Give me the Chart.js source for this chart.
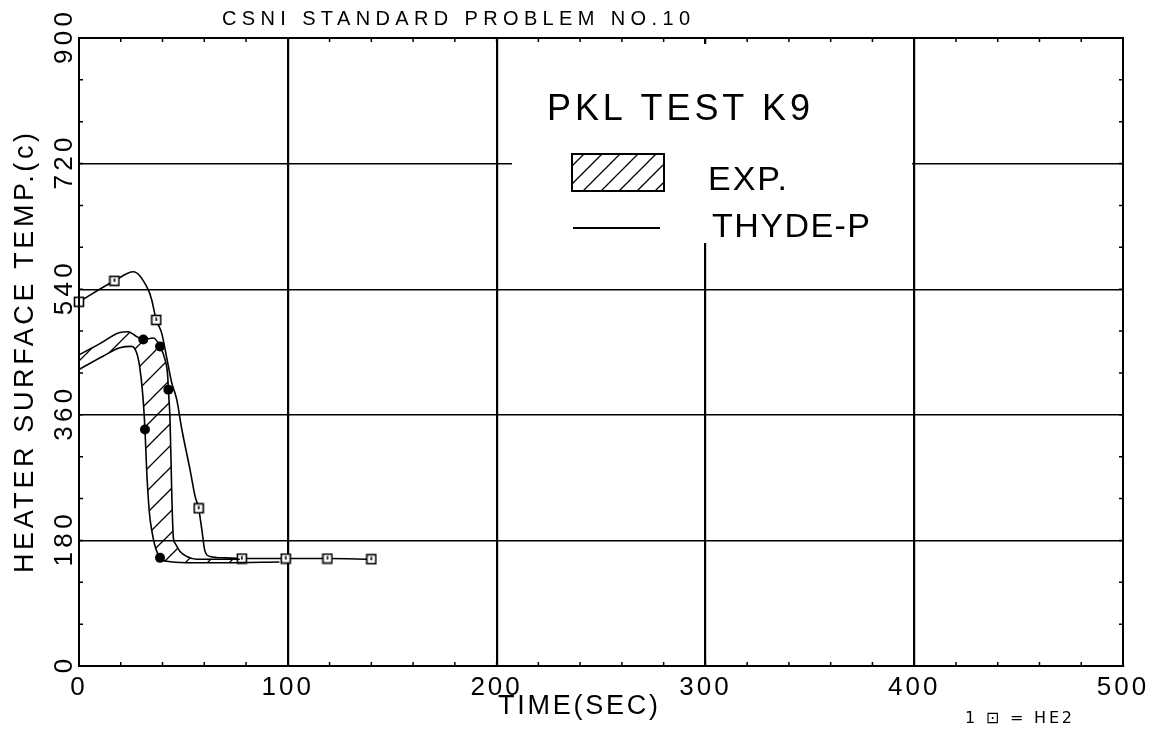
<!DOCTYPE html>
<html>
<head>
<meta charset="utf-8">
<style>
  html, body { margin: 0; padding: 0; background: #fff; }
  #chart { display: block; }
</style>
<script src="https://cdn.jsdelivr.net/npm/chart.js@4.4.1/dist/chart.umd.min.js"></script>
</head>
<body>
<canvas id="chart" width="1160" height="730"></canvas>
<script>
// Values: time (s) and heater surface temperature (C)
const expUpperTime = [0, 10, 19.6, 23.6, 27.6, 30.8, 35.6, 38.8, 41.2, 42.5, 42.8, 43.6, 44.5, 45.2, 46, 48.4, 51.6, 56.4, 77];
const expUpperTemp = [446, 462, 478, 479, 472, 468, 470, 458, 439, 415, 396, 353, 238, 184, 176, 164, 157, 153, 153];
const expLowerTime = [0, 11.5, 19.6, 25.2, 27.6, 29, 30.5, 31.6, 32.4, 33.7, 34.8, 36.4, 38.8, 42, 51.6, 70, 96];
const expLowerTemp = [425, 444, 456, 458, 449, 430, 390, 339, 281, 220, 195, 172, 155, 150, 148, 148, 149];
const expDotTimes = [30.8, 42.8, 31.6, 38.8];

const he2Time = [0, 17, 26, 33.2, 34.8, 37, 39.6, 42, 44.4, 46.8, 49.2, 53.2, 55.6, 57.3, 58.8, 60.3, 62.7, 70, 78, 99, 119, 140];
const he2Temp = [522, 552, 565, 539, 525, 496, 477, 442, 406, 382, 340, 281, 243, 226, 196, 165, 157, 155, 154, 154, 154, 153];
const he2MarkTimes = [0, 17, 37, 57.3, 78, 99, 119, 140];

const xTickLabels = [0, 100, 200, 300, 400, 500];
const yTickLabels = [0, 180, 360, 540, 720, 900];

const FONT = "'Liberation Sans', 'DejaVu Sans', sans-serif";

const canvas = document.getElementById('chart');
const ctx0 = canvas.getContext('2d');

// diagonal hatching for the experimental band
function makeHatch(s) {
  const c = document.createElement('canvas');
  c.width = s; c.height = s;
  const g = c.getContext('2d');
  g.strokeStyle = '#000';
  g.lineWidth = 1.3;
  g.beginPath();
  g.moveTo(-2, s + 2); g.lineTo(s + 2, -2);
  g.moveTo(-2, 2); g.lineTo(2, -2);
  g.moveTo(s - 2, s + 2); g.lineTo(s + 2, s - 2);
  g.stroke();
  return ctx0.createPattern(c, 'repeat');
}
const bandHatch = makeHatch(22);
const keyHatch = makeHatch(18);

// plotter square symbol
function makeSquare() {
  const c = document.createElement('canvas');
  c.width = 12; c.height = 12;
  const g = c.getContext('2d');
  g.fillStyle = '#fff';
  g.fillRect(1, 1, 10, 10);
  g.strokeStyle = '#000';
  g.lineWidth = 1.6;
  g.strokeRect(1.5, 1.5, 9, 9);
  g.beginPath();
  g.moveTo(6, 3.5); g.lineTo(6, 7);
  g.stroke();
  return c;
}
const squareImg = makeSquare();

const toXY = (ts, vs) => ts.map((t, i) => ({ x: t, y: vs[i] }));

function spaced(ctx, text, x, y, width) {
  ctx.letterSpacing = '0px';
  const w = ctx.measureText(text).width;
  const n = [...text].length;
  const sp = n > 1 ? (width - w) / (n - 1) : 0;
  ctx.letterSpacing = sp + 'px';
  ctx.textAlign = 'left';
  ctx.fillText(text, x, y);
  ctx.letterSpacing = '0px';
}

const paperPlugin = {
  id: 'paper',
  beforeDraw(chart) {
    chart.ctx.letterSpacing = '3px';
  },
  afterDraw(chart) {
    const ctx = chart.ctx;
    const a = chart.chartArea;
    const xs = chart.scales.x, ys = chart.scales.y;
    ctx.save();
    ctx.strokeStyle = '#000';
    ctx.fillStyle = '#000';

    // frame
    ctx.lineWidth = 2;
    ctx.strokeRect(a.left, a.top, a.right - a.left, a.bottom - a.top);

    // inward minor ticks
    ctx.lineWidth = 1.5;
    ctx.beginPath();
    for (let v = 20; v < 500; v += 20) {
      const px = xs.getPixelForValue(v);
      ctx.moveTo(px, a.bottom); ctx.lineTo(px, a.bottom - 4);
      ctx.moveTo(px, a.top); ctx.lineTo(px, a.top + 4);
    }
    for (let v = 60; v < 900; v += 60) {
      const py = ys.getPixelForValue(v);
      ctx.moveTo(a.left, py); ctx.lineTo(a.left + 4, py);
      ctx.moveTo(a.right, py); ctx.lineTo(a.right - 4, py);
    }
    ctx.stroke();

    // legend block (grid is blanked behind it)
    ctx.fillStyle = '#fff';
    ctx.fillRect(512, 44, 400, 199);
    ctx.fillStyle = '#000';
    ctx.textBaseline = 'alphabetic';
    ctx.font = '36px ' + FONT;
    spaced(ctx, 'PKL TEST K9', 547, 120, 263);
    ctx.fillStyle = keyHatch;
    ctx.fillRect(572, 154, 92, 37);
    ctx.fillStyle = '#000';
    ctx.lineWidth = 2;
    ctx.strokeRect(572, 154, 92, 37);
    ctx.font = '34px ' + FONT;
    spaced(ctx, 'EXP.', 708, 190, 79);
    ctx.beginPath();
    ctx.moveTo(573, 228); ctx.lineTo(660, 228);
    ctx.stroke();
    spaced(ctx, 'THYDE-P', 712, 237, 158);

    // title
    ctx.font = '20px ' + FONT;
    spaced(ctx, 'CSNI STANDARD PROBLEM NO.10', 222, 25, 468);

    // x title
    ctx.font = '27px ' + FONT;
    spaced(ctx, 'TIME(SEC)', 498, 714, 160);

    // y title and y tick labels, written upward
    ctx.save();
    ctx.translate(33, 573);
    ctx.rotate(-Math.PI / 2);
    spaced(ctx, 'HEATER SURFACE TEMP.(c)', 0, 0, 440);
    ctx.restore();

    ctx.font = '26px ' + FONT;
    yTickLabels.forEach(v => {
      const py = ys.getPixelForValue(v);
      const s = String(v);
      const w = s.length > 1 ? 52 : ctx.measureText(s).width;
      ctx.save();
      ctx.translate(72, py);
      ctx.rotate(-Math.PI / 2);
      spaced(ctx, s, -w / 2, 0, w);
      ctx.restore();
    });

    // symbol note
    ctx.font = "16px 'DejaVu Sans', sans-serif";
    spaced(ctx, '1 \u22A1 = HE2', 965, 723, 107);

    ctx.restore();
  }
};

new Chart(canvas, {
  type: 'line',
  data: {
    datasets: [
      {
        label: 'EXP.',
        data: toXY(expUpperTime, expUpperTemp),
        borderColor: '#000',
        borderWidth: 1.6,
        backgroundColor: bandHatch,
        fill: '+1',
        cubicInterpolationMode: 'monotone',
        pointRadius: c => expDotTimes.includes(c.raw.x) ? 5 : 0,
        pointBackgroundColor: '#000',
        pointBorderColor: '#000',
        pointBorderWidth: 0,
        clip: false
      },
      {
        label: 'EXP. low',
        data: toXY(expLowerTime, expLowerTemp),
        borderColor: '#000',
        borderWidth: 1.6,
        fill: false,
        cubicInterpolationMode: 'monotone',
        pointRadius: c => expDotTimes.includes(c.raw.x) ? 5 : 0,
        pointBackgroundColor: '#000',
        pointBorderColor: '#000',
        pointBorderWidth: 0,
        clip: false
      },
      {
        label: 'THYDE-P',
        data: toXY(he2Time, he2Temp),
        borderColor: '#000',
        borderWidth: 1.6,
        fill: false,
        cubicInterpolationMode: 'monotone',
        pointStyle: squareImg,
        pointRadius: c => he2MarkTimes.includes(c.raw.x) ? 5 : 0,
        clip: false
      }
    ]
  },
  options: {
    responsive: false,
    animation: false,
    events: [],
    layout: { padding: { top: 38, right: 37, left: 0, bottom: 0 } },
    plugins: {
      legend: { display: false },
      tooltip: { enabled: false }
    },
    scales: {
      x: {
        type: 'linear',
        min: 0,
        max: 500,
        afterFit: s => { s.height = 64; },
        border: { color: '#000', width: 2 },
        grid: {
          drawTicks: false,
          color: c => (c.tick.value % 100 === 0 && c.tick.value > 0 && c.tick.value < 500) ? '#000' : 'rgba(0,0,0,0)',
          lineWidth: 2.2
        },
        ticks: {
          stepSize: 20,
          autoSkip: false,
          maxRotation: 0,
          padding: 6,
          color: '#000',
          font: { family: FONT, size: 26 },
          callback: v => xTickLabels.includes(v) ? String(v) : ''
        }
      },
      y: {
        type: 'linear',
        min: 0,
        max: 900,
        afterFit: s => { s.width = 79; },
        border: { color: '#000', width: 2 },
        grid: {
          drawTicks: false,
          color: c => (c.tick.value % 180 === 0 && c.tick.value > 0 && c.tick.value < 900) ? '#000' : 'rgba(0,0,0,0)',
          lineWidth: 1.4
        },
        ticks: { display: false, stepSize: 60 }
      }
    }
  },
  plugins: [paperPlugin]
});
</script>
</body>
</html>
